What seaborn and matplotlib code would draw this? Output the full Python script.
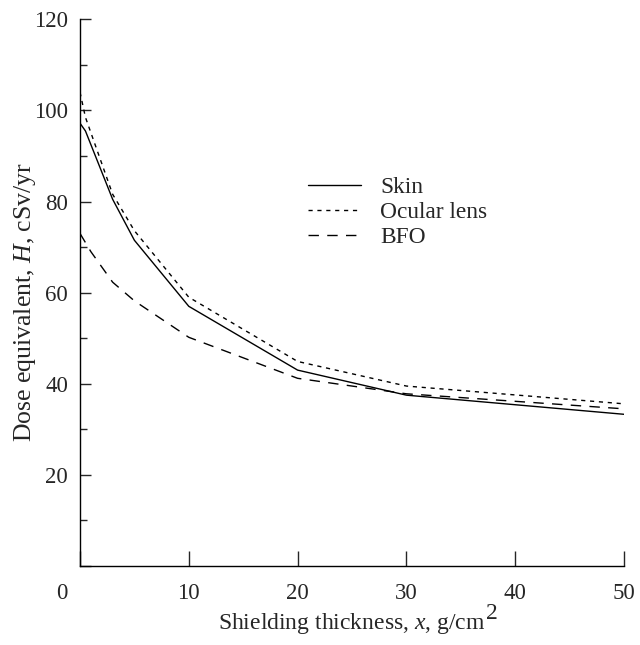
#Dose equivalent vs shielding thickness

import pandas as pd
import matplotlib
matplotlib.use('Agg')
import matplotlib.pyplot as plt
import matplotlib.transforms as mtrans
import seaborn as sb

sb.set_style('ticks')
plt.rcParams['font.family'] = ['Liberation Serif', 'DejaVu Serif']
plt.rcParams['mathtext.fontset'] = 'custom'
plt.rcParams['mathtext.rm'] = 'Liberation Serif'
plt.rcParams['mathtext.it'] = 'Liberation Serif:italic'
fs = 16.5

# values
x_skin = [0, 0.5, 3, 5, 10, 20, 30, 50]
h_skin = [97.2, 95.5, 80.5, 71.5, 57.0, 43.0, 37.5, 33.3]

x_lens = [0, 0.5, 3, 5, 10, 20, 30, 50]
h_lens = [104.0, 98.5, 81.6, 73.6, 59.0, 44.9, 39.5, 35.6]

x_bfo = [0, 1, 3, 5, 10, 20, 30, 50]
h_bfo = [73.0, 69.0, 62.3, 58.2, 50.2, 41.2, 37.8, 34.5]

dfSkin = pd.DataFrame({'x': x_skin, 'H': h_skin})
dfLens = pd.DataFrame({'x': x_lens, 'H': h_lens})
dfBFO = pd.DataFrame({'x': x_bfo, 'H': h_bfo})

fig = plt.figure(figsize = (6.4, 6.45), dpi = 100)
ax = fig.add_axes([0.125, 0.1225, 0.85, 0.8475])

#Skin
sb.lineplot(x = 'x', y = 'H', data = dfSkin, color = 'k',
            linewidth = 1.0, linestyle = '-', label = 'Skin', ax = ax)

#Ocular lens
sb.lineplot(x = 'x', y = 'H', data = dfLens, color = 'k',
            linewidth = 1.0, linestyle = (0, (3, 3.4)), label = 'Ocular lens', ax = ax)

#BFO
sb.lineplot(x = 'x', y = 'H', data = dfBFO, color = 'k',
            linewidth = 1.0, linestyle = (0, (7.5, 6)), label = 'BFO', ax = ax)

ax.set_xlim(0, 50)
ax.set_ylim(0, 120)
ax.set_xticks([0, 10, 20, 30, 40, 50])
ax.set_yticks([0, 20, 40, 60, 80, 100, 120])
ax.set_yticklabels(['', '20', '40', '60', '80', '100', '120'])
ax.set_yticks(range(10, 120, 20), minor = True)

ax.tick_params(axis = 'x', direction = 'in', length = 11, width = 1, pad = 12, labelsize = fs)
ax.tick_params(axis = 'y', which = 'major', direction = 'in', length = 8, width = 1, pad = 8.6, labelsize = fs)
ax.tick_params(axis = 'y', which = 'minor', direction = 'in', length = 5, width = 1)

# the "0" under the origin sits a little to the left
lab0 = ax.get_xticklabels()[0]
lab0.set_transform(lab0.get_transform() + mtrans.ScaledTranslation(-0.18, 0, fig.dpi_scale_trans))

sb.despine(ax = ax)
for s in ['left', 'bottom']:
    ax.spines[s].set_linewidth(1.0)
    ax.spines[s].set_color('k')

ax.set_xlabel('Shielding thickness, $x$, g/cm', fontsize = 17, labelpad = 5)
# full-size raised "2" as in the original
ax.annotate('2', xy = (1, 0), xycoords = ax.xaxis.label, xytext = (0.5, 8),
            textcoords = 'offset points', ha = 'left', va = 'bottom', fontsize = 17)

ax.set_ylabel('Dose equivalent, $H$, cSv/yr', fontsize = 18.5)
ax.yaxis.set_label_coords(-0.077, 0.4835)

ax.legend(loc = 'upper left', bbox_to_anchor = (0.397, 0.733), frameon = False,
          handlelength = 2.3, handletextpad = 0.8, labelspacing = 0.15,
          borderpad = 0, fontsize = 16.8)

fig.savefig('out.png', dpi = 100)
